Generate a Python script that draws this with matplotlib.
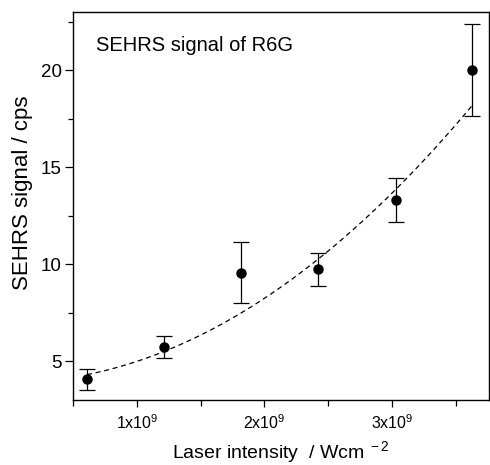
import numpy as np
import matplotlib
matplotlib.use("Agg")
import matplotlib.pyplot as plt
from matplotlib.ticker import MultipleLocator, FixedLocator

plt.rcParams['font.family'] = ['Liberation Sans', 'DejaVu Sans']
plt.rcParams['mathtext.fontset'] = 'custom'
plt.rcParams['mathtext.rm'] = 'Liberation Sans'
plt.rcParams['mathtext.it'] = 'Liberation Sans:italic'
plt.rcParams['mathtext.bf'] = 'Liberation Sans:bold'

# measured data (laser intensity in units of 1e9 W/cm^2)
intensity = [0.61, 1.21, 1.82, 2.42, 3.03, 3.63]
signal = [4.06, 5.72, 9.57, 9.73, 13.3, 20.0]
signal_err = [0.55, 0.55, 1.55, 0.85, 1.13, 2.37]

# quadratic fit  y = a + b * x^2
fit_a = 3.9
fit_b = 1.085

xtick_vals = [1, 2, 3]
xtick_labels = [r'1x10$^{9}$', r'2x10$^{9}$', r'3x10$^{9}$']

fig = plt.figure(figsize=(4.9, 4.65), dpi=100)
ax = fig.add_axes([0.149, 0.140, 0.849, 0.834])

# fit curve
xf = np.linspace(intensity[0], intensity[-1], 200)
ax.plot(xf, fit_a + fit_b * xf ** 2, color='black', linestyle=(0, (4, 3)), lw=0.9)

# data with error bars
ax.errorbar(intensity, signal, yerr=signal_err, fmt='o', color='black',
            ms=6.5, ecolor='black', elinewidth=0.9, capsize=5.5, capthick=0.9)

ax.set_xlim(0.5, 3.76)
ax.set_ylim(3, 23)

ax.xaxis.set_major_locator(FixedLocator(xtick_vals))
ax.set_xticklabels(xtick_labels)
ax.xaxis.set_minor_locator(MultipleLocator(0.5))
ax.yaxis.set_major_locator(MultipleLocator(5))
ax.yaxis.set_minor_locator(MultipleLocator(2.5))

ax.tick_params(which='both', direction='out', top=False, right=False, width=0.9)
ax.tick_params(axis='y', which='major', length=6, labelsize=13.5, pad=2)
ax.tick_params(axis='y', which='minor', length=3.5)
ax.tick_params(axis='x', which='major', length=5, labelsize=11.5, pad=5)
ax.tick_params(axis='x', which='minor', length=4.5)
for sp in ax.spines.values():
    sp.set_linewidth(1.0)

ax.set_xlabel(r'Laser intensity  / Wcm$^{\ -2}$', fontsize=14, labelpad=5)
ax.set_ylabel('SEHRS signal / cps', fontsize=16, labelpad=6)
ax.yaxis.label.set_y(0.535)

ax.text(0.055, 0.915, 'SEHRS signal of R6G', transform=ax.transAxes,
        fontsize=14.5, ha='left', va='center')

fig.savefig('out.png', dpi=100)
